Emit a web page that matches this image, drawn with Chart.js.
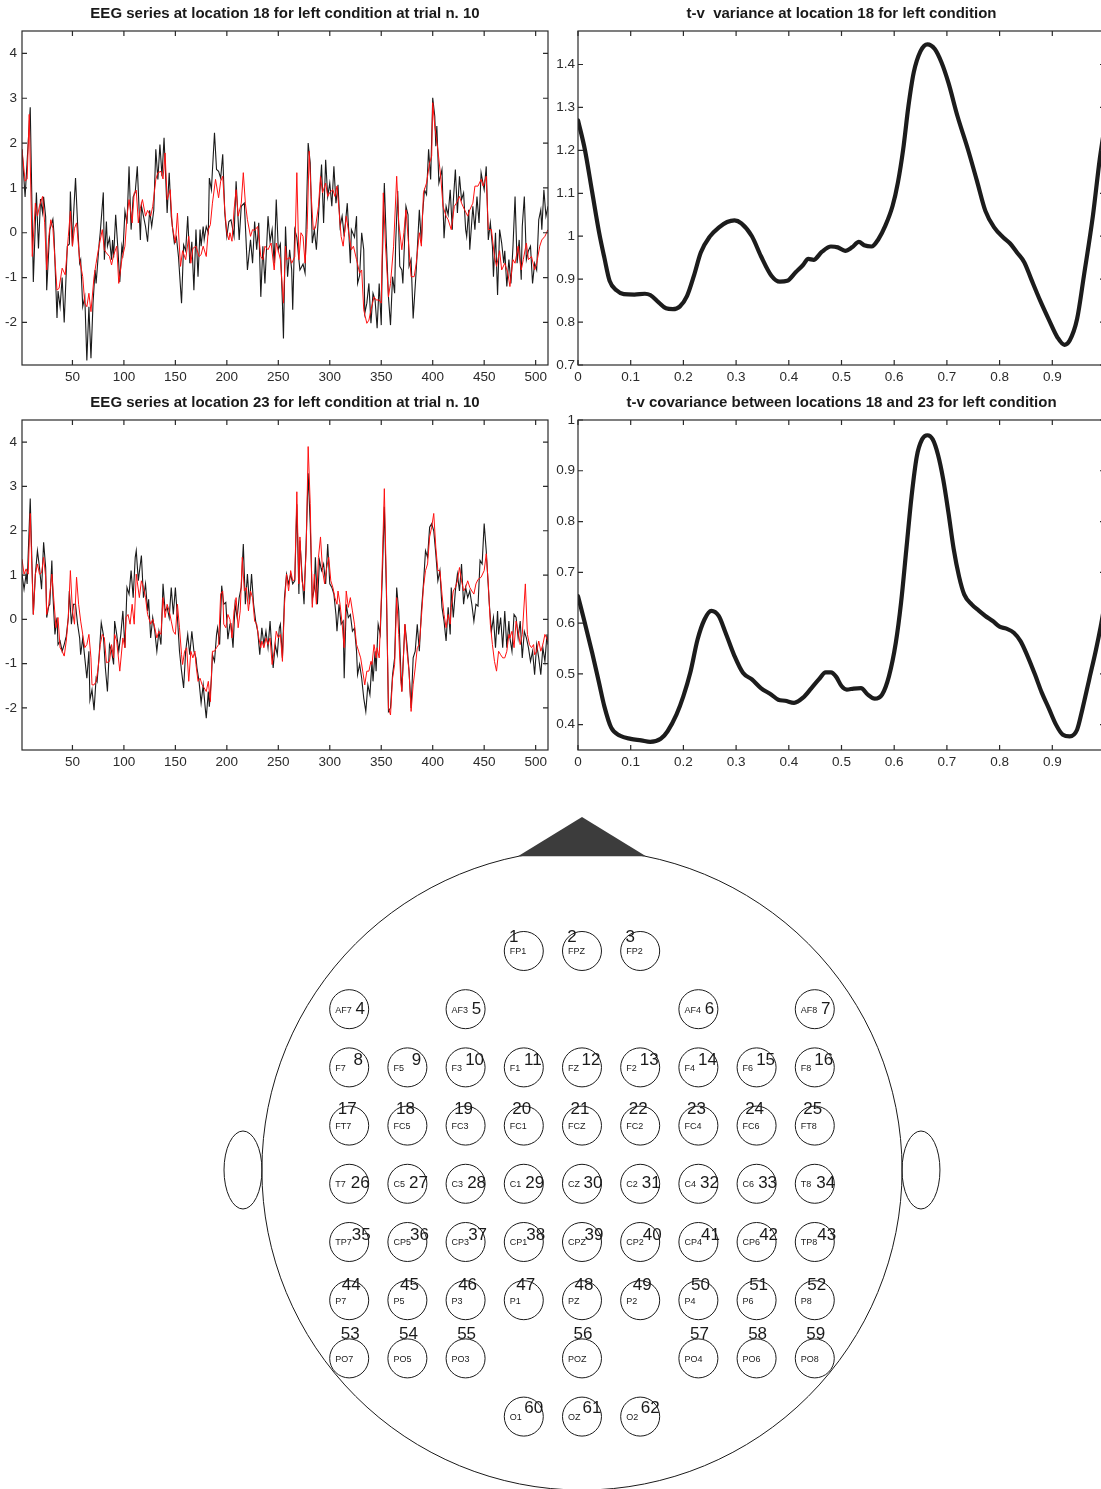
<!DOCTYPE html>
<html>
<head>
<meta charset="utf-8">
<script src="https://cdn.jsdelivr.net/npm/chart.js@4.4.0/dist/chart.umd.min.js"></script>
<style>
  html, body { margin: 0; padding: 0; background: #fff; overflow: hidden; }
  #page { position: relative; width: 1101px; height: 1489px; overflow: hidden; background: #fff; }
  canvas { position: absolute; }
</style>
</head>
<body>
<div id="page">
  <canvas id="eeg18" width="570" height="390" style="left:0;top:0"></canvas>
  <canvas id="var18" width="583" height="390" style="left:550px;top:0"></canvas>
  <canvas id="eeg23" width="570" height="386" style="left:0;top:389px"></canvas>
  <canvas id="cov" width="583" height="386" style="left:550px;top:389px"></canvas>
  <canvas id="head" width="1143" height="741" style="left:-21px;top:769px"></canvas>
</div>
<script>
// --- DATA ---
// EEG samples: [sample index, value]
const eeg18Black = [[1,1.86],[4,0.8],[9,2.8],[12,-1.1],[15,0.9],[17,-0.35],[19,0.75],[21,0.45],[22,0.8],[24,0.35],[25,-1.28],[28,0.07],[31,0.3],[32,0.0],[35,-1.9],[36,-1.3],[38,-1.65],[40,-1.0],[42,-2.0],[45,-0.3],[47,-0.25],[48,0.92],[50,-0.3],[51,0.37],[53,1.22],[55,0.2],[57,-0.68],[58,-0.6],[60,-1.65],[62,-1.43],[64,-2.85],[66,-1.65],[68,-2.8],[70,-1.57],[72,-0.83],[73,-1.13],[76,-0.23],[77,0.0],[80,0.9],[81,-0.6],[83,0.25],[84,-0.3],[86,-0.12],[88,-0.6],[89,-0.16],[90,-0.55],[92,0.4],[94,-0.3],[96,-1.1],[98,-0.3],[99,-0.45],[101,0.48],[103,0.2],[105,1.48],[107,0.07],[109,0.8],[111,0.9],[113,1.48],[116,-0.16],[117,0.6],[119,0.37],[121,0.14],[123,-0.2],[125,0.5],[127,0.14],[129,0.5],[131,1.86],[133,1.19],[135,1.97],[137,1.26],[139,2.12],[142,0.44],[144,1.34],[146,0.37],[149,-0.23],[151,-0.1],[153,-0.53],[156,-1.57],[158,-0.27],[160,-0.4],[162,0.37],[164,-0.68],[166,-0.2],[168,-1.28],[170,0.07],[172,-0.98],[174,0.07],[175,-0.3],[177,0.14],[178,-0.15],[180,0.14],[182,0.0],[183,1.22],[185,0.96],[188,2.23],[190,1.41],[192,1.37],[194,1.22],[196,1.75],[198,0.44],[200,-0.08],[202,0.25],[204,0.29],[207,-0.08],[209,1.15],[212,-0.16],[214,0.59],[217,0.66],[220,-0.83],[223,-0.16],[225,-0.68],[227,0.25],[229,-0.38],[231,0.22],[233,-1.43],[235,-0.3],[237,-1.13],[240,0.37],[242,-0.2],[244,0.07],[246,-0.68],[248,0.74],[250,-0.38],[252,-0.25],[254,-1.57],[255,-2.36],[257,0.14],[259,-0.98],[261,-0.38],[263,-0.83],[264,-1.72],[266,0.07],[268,-0.1],[270,-0.6],[271,-0.83],[274,-0.7],[276,-0.9],[277,0.14],[279,2.0],[281,1.56],[283,-0.23],[285,0.07],[287,-0.38],[289,0.37],[292,1.52],[294,0.22],[296,1.63],[298,0.81],[300,1.11],[302,0.59],[304,1.48],[306,0.66],[308,1.07],[310,0.14],[312,0.37],[314,-0.08],[317,0.66],[320,-0.68],[321,0.07],[324,-0.1],[326,0.37],[327,-1.13],[329,-0.95],[331,0.0],[333,-0.38],[334,-1.8],[336,-1.57],[338,-1.13],[340,-2.02],[342,-1.35],[344,-1.5],[346,-2.13],[348,-1.13],[350,-2.06],[351,-0.68],[353,1.11],[355,-0.23],[357,-1.43],[359,-2.06],[361,-0.98],[363,-1.35],[364,-0.23],[366,0.93],[368,-0.75],[370,-0.83],[371,-1.13],[374,0.59],[376,0.4],[377,-0.75],[379,-0.6],[381,-1.91],[384,-0.83],[385,-0.38],[387,0.51],[389,-0.23],[390,0.37],[392,0.96],[394,0.85],[396,1.86],[398,1.19],[400,3.01],[402,2.6],[403,1.93],[404,2.38],[406,1.11],[409,1.41],[411,-0.12],[413,0.59],[415,0.4],[417,0.96],[419,0.07],[420,0.7],[422,1.41],[424,0.44],[426,1.26],[428,0.74],[430,0.89],[432,0.07],[433,-0.08],[435,0.51],[436,-0.38],[439,0.59],[441,0.07],[443,0.81],[445,0.22],[447,1.34],[450,0.96],[452,1.48],[454,-0.16],[456,0.22],[458,-0.3],[459,-0.98],[461,0.0],[463,-1.39],[465,0.07],[467,-0.23],[469,-0.68],[470,-0.4],[472,-1.2],[474,-0.6],[476,-1.13],[478,-0.3],[480,0.81],[482,-0.68],[484,-0.16],[486,-1.05],[487,0.14],[489,0.81],[491,-0.6],[493,-0.4],[495,-0.3],[497,-1.13],[499,-0.68],[501,-0.83],[503,0.29],[505,0.51],[506,0.07],[508,0.96],[510,0.37],[512,0.59]];

const eeg18Red = [[1,1.86],[4,1.15],[6,1.2],[8,2.64],[11,-0.53],[14,0.66],[16,0.37],[18,0.6],[21,0.81],[23,0.22],[25,-0.83],[27,-0.1],[29,0.29],[31,0.1],[35,-1.28],[37,-1.24],[40,-0.79],[43,-0.94],[46,-0.08],[48,0.48],[50,-0.3],[52,0.1],[54,0.22],[57,-0.6],[60,-0.98],[62,-1.57],[64,-1.65],[66,-1.35],[68,-1.76],[71,-0.98],[73,-0.68],[75,-0.4],[79,0.07],[81,-0.38],[83,-0.45],[86,-0.53],[88,-0.72],[90,-0.5],[93,-0.3],[95,-1.13],[98,-0.6],[101,-0.3],[103,0.37],[105,0.74],[108,0.22],[110,0.89],[112,0.95],[114,0.22],[116,0.55],[118,0.74],[121,0.37],[123,0.5],[126,0.37],[128,0.59],[131,1.19],[133,1.34],[136,1.37],[138,1.2],[140,1.78],[142,0.74],[145,0.96],[147,0.14],[150,-0.23],[152,0.44],[155,-0.75],[157,-0.4],[160,-0.6],[163,-0.08],[165,-0.68],[167,-0.35],[170,-0.3],[173,-0.53],[175,-0.49],[177,-0.3],[180,-0.53],[182,0.07],[184,0.18],[186,0.66],[189,1.19],[192,0.78],[194,1.15],[196,1.26],[198,0.51],[200,0.0],[202,-0.16],[203,0.0],[205,-0.19],[207,0.51],[209,0.96],[211,0.37],[214,0.66],[216,1.34],[218,0.66],[220,0.29],[223,-0.08],[225,0.07],[227,0.05],[230,0.14],[233,-0.53],[235,-0.6],[237,-0.3],[240,-0.38],[243,-0.23],[246,-0.83],[248,-0.23],[250,-0.4],[252,-0.6],[255,-1.57],[257,-0.3],[258,-0.6],[261,-0.55],[263,-0.68],[266,-0.53],[268,1.34],[270,-0.6],[272,0.0],[274,-0.08],[276,-0.68],[278,0.07],[280,1.82],[282,0.81],[284,0.07],[286,0.1],[289,0.59],[291,1.26],[293,0.89],[296,1.11],[298,0.81],[300,0.9],[303,0.96],[305,0.81],[307,1.04],[309,0.51],[311,-0.08],[313,-0.3],[316,0.37],[318,0.07],[321,-0.38],[323,-0.3],[326,-0.6],[329,-0.9],[331,-0.83],[333,-1.72],[336,-2.02],[338,-1.95],[340,-1.72],[343,-1.43],[345,-1.5],[348,-1.5],[350,-1.57],[352,0.89],[354,-0.23],[357,-1.43],[359,-1.13],[362,-0.3],[365,1.26],[367,0.22],[370,-0.38],[372,0.0],[374,0.51],[376,-0.08],[379,-0.98],[382,-0.98],[384,-0.68],[387,0.0],[389,-0.3],[391,0.89],[394,1.11],[397,1.56],[399,1.71],[400,2.9],[402,2.38],[405,1.86],[408,1.19],[410,0.59],[413,0.37],[415,0.29],[418,0.07],[421,0.59],[423,0.66],[426,0.81],[428,0.66],[431,0.51],[434,0.37],[436,0.51],[439,0.66],[441,1.04],[444,1.04],[447,1.19],[449,1.04],[452,1.26],[454,0.07],[457,0.07],[460,-0.53],[462,-0.75],[465,-0.4],[467,-0.83],[470,-0.68],[473,-0.9],[475,-1.2],[478,-0.6],[480,-0.68],[483,-0.3],[486,-0.83],[488,-0.6],[491,-0.23],[493,-0.6],[496,-0.53],[499,-0.83],[501,-0.68],[504,-0.3],[506,-0.16],[509,-0.08],[512,0.07]];

const eeg23Black = [[1,1.02],[3,0.68],[5,1.02],[6,0.8],[9,2.73],[12,0.11],[14,1.02],[16,1.55],[18,1.17],[20,0.68],[22,1.74],[24,1.17],[25,0.04],[27,0.3],[28,0.34],[30,1.33],[31,0.57],[33,-0.34],[35,0.04],[36,-0.57],[38,-0.49],[40,-0.72],[42,-0.57],[44,-0.38],[46,0.04],[47,0.64],[49,-0.11],[51,0.34],[53,0.34],[55,-0.11],[57,-0.42],[58,-0.8],[60,-0.42],[62,-0.87],[64,-1.33],[66,-0.72],[67,-1.82],[69,-1.59],[71,-2.05],[73,-1.33],[74,-1.4],[76,-0.8],[78,-0.08],[80,-0.34],[82,-1.1],[84,-1.63],[86,-0.57],[88,-0.72],[90,-1.02],[91,-0.04],[93,-0.34],[95,-0.72],[97,-0.34],[99,0.19],[101,-0.64],[103,0.72],[105,0.57],[107,1.1],[109,0.49],[111,1.4],[112,1.55],[114,0.87],[117,1.44],[119,0.49],[121,0.8],[123,0.19],[124,0.45],[126,-0.42],[128,0.04],[130,-0.27],[132,-0.72],[134,-0.27],[136,-0.57],[138,0.8],[140,0.19],[142,0.27],[144,0.04],[146,0.72],[148,0.11],[150,0.72],[152,0.04],[154,-0.72],[156,-1.17],[158,-1.55],[160,-0.72],[162,-0.34],[164,-0.8],[166,-0.27],[168,-0.72],[170,-0.87],[171,-1.1],[173,-1.4],[175,-1.89],[177,-1.48],[179,-2.0],[180,-2.23],[182,-1.63],[183,-1.97],[185,-1.33],[186,-0.8],[188,-0.95],[190,-0.34],[191,-0.19],[193,-0.57],[195,0.76],[197,0.34],[199,0.38],[201,-0.45],[203,-0.11],[204,-0.1],[206,-0.64],[208,0.34],[210,0.04],[212,0.49],[214,0.72],[216,1.7],[218,0.34],[220,1.02],[222,0.34],[224,1.02],[226,0.34],[228,-0.04],[230,-0.27],[232,-0.8],[234,-0.19],[236,-0.57],[238,-0.27],[240,-0.64],[242,-0.04],[243,-0.42],[245,-1.1],[247,-0.57],[249,-0.8],[251,-0.19],[252,-0.11],[254,-0.87],[256,0.49],[258,1.02],[260,0.8],[262,1.02],[264,0.8],[266,0.87],[268,2.6],[270,0.57],[271,1.78],[273,1.02],[275,0.34],[277,1.7],[279,3.3],[281,2.16],[283,0.45],[285,0.7],[286,1.4],[288,0.34],[290,1.33],[292,1.1],[294,1.25],[296,0.8],[298,1.7],[300,0.8],[302,0.72],[304,0.57],[306,0.11],[307,-0.27],[309,0.34],[311,-0.11],[313,-0.04],[314,-1.33],[316,0.34],[318,0.04],[320,0.11],[322,-0.27],[324,-0.2],[326,-0.72],[327,-1.25],[329,-1.02],[331,-1.33],[333,-1.78],[335,-2.08],[337,-1.48],[339,-1.7],[341,-0.95],[342,-1.4],[344,-0.72],[345,-1.17],[347,-0.11],[349,-0.34],[351,0.95],[353,2.54],[355,0.64],[357,-2.08],[359,-2.0],[361,-1.25],[363,-0.87],[365,0.72],[367,0.19],[369,-1.17],[370,-1.63],[373,-0.11],[375,-0.57],[377,-1.17],[379,-2.0],[381,-0.87],[383,-0.72],[385,-0.11],[387,-0.72],[389,0.19],[391,0.8],[393,1.55],[395,1.4],[397,2.08],[399,2.16],[401,2.0],[403,1.48],[405,0.87],[407,1.1],[409,0.27],[411,-0.04],[413,-0.49],[415,0.27],[417,-0.34],[418,0.72],[420,0.04],[422,0.64],[424,1.02],[426,0.64],[428,1.25],[430,0.34],[432,0.72],[434,0.49],[436,0.64],[438,0.34],[440,-0.04],[442,0.34],[444,0.3],[446,1.33],[448,1.25],[450,2.16],[452,1.55],[455,0.34],[457,-0.27],[459,0.04],[461,-0.64],[463,0.19],[464,-0.34],[466,0.04],[468,-0.64],[470,0.19],[472,-0.64],[474,-0.04],[475,-0.42],[477,-0.72],[479,0.11],[481,0.04],[483,-0.42],[485,-0.04],[487,-0.87],[489,-0.27],[491,-0.42],[493,-0.64],[495,-0.95],[497,-0.72],[499,-1.25],[501,-0.57],[503,-0.87],[505,-1.25],[507,-0.64],[509,-0.95],[511,-0.34],[512,-0.57]];

const eeg23Red = [[1,1.36],[3,1.02],[5,1.14],[7,1.02],[9,2.39],[12,0.11],[14,1.02],[16,1.25],[18,1.02],[20,1.05],[22,1.4],[24,0.95],[25,0.11],[27,0.34],[30,1.02],[32,0.42],[34,-0.19],[36,0.04],[38,-0.64],[40,-0.72],[42,-0.83],[44,-0.49],[46,0.04],[48,1.1],[50,0.19],[52,-0.11],[54,0.95],[56,0.34],[58,-0.04],[60,-0.34],[62,-0.64],[64,-0.57],[66,-0.34],[68,-0.87],[69,-1.48],[71,-1.48],[73,-1.4],[75,-1.1],[77,-0.57],[79,-0.34],[81,-0.42],[83,-0.98],[86,-0.95],[88,-0.57],[90,-0.87],[91,-0.34],[93,-0.49],[96,-1.17],[99,-0.42],[101,-0.64],[102,0.04],[104,0.11],[106,-0.11],[108,0.34],[110,-0.11],[112,1.02],[115,0.49],[117,0.87],[119,0.72],[121,0.49],[123,0.11],[124,0.04],[126,-0.11],[128,0.0],[130,-0.19],[132,-0.42],[134,-0.27],[136,-0.34],[138,0.49],[140,0.04],[142,0.34],[144,0.19],[146,-0.04],[148,-0.27],[150,-0.34],[152,0.34],[154,-0.19],[156,-0.8],[157,-1.02],[159,-0.72],[161,-0.64],[163,-1.4],[165,-0.72],[167,-0.87],[169,-0.72],[170,-1.02],[172,-1.4],[174,-1.33],[176,-1.48],[178,-1.55],[180,-1.63],[182,-1.4],[184,-1.86],[186,-0.72],[188,-0.72],[190,-0.64],[192,-0.57],[194,0.57],[196,0.64],[197,-0.11],[199,-0.19],[201,0.11],[203,0.0],[205,-0.42],[207,0.19],[209,0.49],[211,-0.19],[213,0.19],[215,1.4],[217,0.64],[219,0.72],[221,0.19],[223,0.64],[225,0.49],[227,-0.04],[229,-0.11],[231,-0.42],[233,-0.64],[234,-0.49],[236,-0.64],[238,-0.42],[240,-0.57],[242,-0.42],[244,-1.02],[246,-0.72],[248,-0.27],[250,-0.42],[252,-0.34],[254,-0.95],[256,0.34],[258,1.02],[260,0.64],[262,1.1],[264,0.87],[266,0.9],[268,2.88],[270,0.8],[271,1.86],[273,0.87],[275,0.64],[277,1.5],[279,3.9],[281,2.61],[283,0.27],[285,1.02],[287,0.34],[289,1.4],[291,1.86],[293,1.1],[295,0.8],[297,1.17],[299,1.4],[301,0.87],[303,0.72],[305,0.49],[307,0.34],[308,0.64],[310,0.34],[312,-0.11],[314,-0.64],[316,0.64],[318,0.27],[320,0.49],[322,0.19],[324,-0.11],[326,-0.57],[328,-0.72],[330,-0.87],[332,-1.17],[334,-1.48],[336,-1.17],[338,-1.17],[340,-0.95],[341,-1.02],[343,-0.57],[345,-0.87],[346,-0.64],[348,-0.87],[350,0.42],[353,2.95],[355,0.8],[357,-2.0],[359,-2.16],[361,-1.33],[363,-1.02],[365,0.49],[367,-0.34],[369,-1.4],[370,-1.63],[373,-0.11],[375,-0.72],[377,-1.17],[379,-2.08],[381,-1.48],[383,-1.1],[385,-0.64],[387,-0.57],[389,0.04],[391,0.72],[393,1.1],[395,1.25],[397,1.86],[399,2.08],[401,2.39],[403,1.63],[405,1.1],[407,1.1],[409,0.57],[411,0.11],[413,-0.19],[415,0.11],[417,-0.11],[418,0.27],[420,0.64],[422,0.72],[424,0.87],[426,1.17],[428,0.87],[430,0.64],[432,0.72],[434,0.87],[436,0.72],[438,0.64],[440,0.57],[442,0.8],[444,0.9],[447,0.95],[450,1.1],[452,1.48],[454,0.8],[456,-0.11],[458,-0.57],[460,-0.95],[462,-1.17],[464,-0.72],[466,-0.8],[468,-0.87],[470,-0.87],[472,-0.72],[474,-0.34],[475,-0.42],[477,-0.27],[479,-0.64],[481,-0.04],[483,-0.27],[485,-0.57],[487,-0.34],[490,0.8],[492,-0.34],[494,-0.57],[496,-0.64],[498,-0.57],[499,-0.8],[501,-0.72],[503,-0.49],[505,-0.72],[507,-0.57],[509,-0.34],[512,-0.49]];

// time-varying variance / covariance: [t, value]
const varianceCurve = [[0,1.27],[0.013,1.202],[0.027,1.102],[0.04,1.009],[0.05,0.95],[0.06,0.896],[0.073,0.874],[0.087,0.865],[0.107,0.864],[0.127,0.866],[0.137,0.863],[0.153,0.846],[0.167,0.832],[0.18,0.83],[0.193,0.836],[0.207,0.861],[0.22,0.908],[0.233,0.962],[0.25,0.999],[0.267,1.02],[0.283,1.033],[0.297,1.037],[0.31,1.03],[0.33,1.0],[0.347,0.954],[0.367,0.908],[0.383,0.894],[0.397,0.896],[0.413,0.916],[0.427,0.933],[0.437,0.947],[0.447,0.945],[0.463,0.964],[0.48,0.976],[0.493,0.974],[0.507,0.966],[0.52,0.974],[0.533,0.987],[0.543,0.979],[0.557,0.976],[0.57,0.993],[0.583,1.024],[0.597,1.071],[0.607,1.125],[0.617,1.202],[0.627,1.303],[0.637,1.381],[0.65,1.431],[0.663,1.447],[0.677,1.436],[0.69,1.404],[0.703,1.357],[0.72,1.28],[0.74,1.202],[0.757,1.129],[0.773,1.059],[0.79,1.02],[0.807,0.997],[0.82,0.983],[0.833,0.962],[0.847,0.939],[0.86,0.9],[0.877,0.85],[0.893,0.807],[0.91,0.764],[0.923,0.747],[0.933,0.757],[0.947,0.807],[0.96,0.908],[0.977,1.047],[0.99,1.179],[1.0,1.26]];

const covarianceCurve = [[0,0.653],[0.013,0.6],[0.027,0.541],[0.04,0.482],[0.05,0.436],[0.063,0.394],[0.08,0.378],[0.1,0.372],[0.12,0.369],[0.137,0.366],[0.157,0.372],[0.17,0.387],[0.187,0.42],[0.2,0.456],[0.213,0.502],[0.227,0.568],[0.24,0.607],[0.253,0.624],[0.267,0.614],[0.28,0.581],[0.297,0.535],[0.313,0.502],[0.33,0.489],[0.347,0.472],[0.367,0.459],[0.38,0.449],[0.393,0.447],[0.41,0.443],[0.427,0.453],[0.443,0.472],[0.457,0.489],[0.47,0.503],[0.48,0.503],[0.49,0.494],[0.5,0.476],[0.51,0.469],[0.523,0.471],[0.537,0.472],[0.55,0.459],[0.563,0.451],[0.577,0.459],[0.59,0.495],[0.603,0.561],[0.613,0.64],[0.623,0.745],[0.633,0.85],[0.643,0.929],[0.653,0.962],[0.663,0.97],[0.673,0.962],[0.683,0.932],[0.693,0.883],[0.703,0.817],[0.713,0.745],[0.723,0.692],[0.733,0.656],[0.747,0.637],[0.76,0.625],[0.773,0.614],[0.787,0.604],[0.8,0.593],[0.813,0.589],[0.827,0.581],[0.84,0.564],[0.853,0.535],[0.867,0.499],[0.88,0.463],[0.893,0.433],[0.907,0.4],[0.92,0.38],[0.933,0.377],[0.947,0.39],[0.957,0.43],[0.97,0.489],[0.983,0.548],[0.992,0.594],[1.0,0.64]];

// tick labels
const eegXTicks = [50, 100, 150, 200, 250, 300, 350, 400, 450, 500];
const eegYTicks = [-2, -1, 0, 1, 2, 3, 4];
const tvXTicks = [0, 0.1, 0.2, 0.3, 0.4, 0.5, 0.6, 0.7, 0.8, 0.9, 1];
const varYTicks = [0.7, 0.8, 0.9, 1, 1.1, 1.2, 1.3, 1.4];
const covYTicks = [0.4, 0.5, 0.6, 0.7, 0.8, 0.9, 1];

// electrode layout (grid column / row on the scalp map)
const electrodeNames = ['FP1','FPZ','FP2','AF7','AF3','AF4','AF8',
  'F7','F5','F3','F1','FZ','F2','F4','F6','F8',
  'FT7','FC5','FC3','FC1','FCZ','FC2','FC4','FC6','FT8',
  'T7','C5','C3','C1','CZ','C2','C4','C6','T8',
  'TP7','CP5','CP3','CP1','CPZ','CP2','CP4','CP6','TP8',
  'P7','P5','P3','P1','PZ','P2','P4','P6','P8',
  'PO7','PO5','PO3','POZ','PO4','PO6','PO8','O1','OZ','O2'];
const electrodeCol = [-1,0,1,-4,-2,2,4,
  -4,-3,-2,-1,0,1,2,3,4,
  -4,-3,-2,-1,0,1,2,3,4,
  -4,-3,-2,-1,0,1,2,3,4,
  -4,-3,-2,-1,0,1,2,3,4,
  -4,-3,-2,-1,0,1,2,3,4,
  -4,-3,-2,0,2,3,4,-1,0,1];
const electrodeRow = [0,0,0,1,1,1,1,
  2,2,2,2,2,2,2,2,2,
  3,3,3,3,3,3,3,3,3,
  4,4,4,4,4,4,4,4,4,
  5,5,5,5,5,5,5,5,5,
  6,6,6,6,6,6,6,6,6,
  7,7,7,7,7,7,7,8,8,8];

// --- STYLE ---
const FONT = "'Liberation Sans', Arial, Helvetica, sans-serif";
Chart.defaults.font.family = FONT;

// matlab-like box with inward ticks on all four sides
const boxPlugin = {
  id: 'matlabBox',
  afterDraw(chart) {
    const { ctx, chartArea: a, scales: { x, y } } = chart;
    ctx.save();
    ctx.strokeStyle = '#2a2a2a';
    ctx.lineWidth = 1.2;
    ctx.strokeRect(a.left, a.top, a.right - a.left, a.bottom - a.top);
    ctx.beginPath();
    x.ticks.forEach(t => {
      const p = x.getPixelForValue(t.value);
      ctx.moveTo(p, a.bottom); ctx.lineTo(p, a.bottom - 5);
      ctx.moveTo(p, a.top); ctx.lineTo(p, a.top + 5);
    });
    y.ticks.forEach(t => {
      const p = y.getPixelForValue(t.value);
      ctx.moveTo(a.left, p); ctx.lineTo(a.left + 5, p);
      ctx.moveTo(a.right, p); ctx.lineTo(a.right - 5, p);
    });
    ctx.stroke();
    ctx.restore();
  }
};

function axis(min, max, ticks, size, pad, isX) {
  return {
    type: 'linear', min, max,
    grid: { display: false, drawTicks: false },
    border: { display: false },
    ticks: {
      autoSkip: false, maxRotation: 0, padding: pad,
      color: '#2b2b2b', font: { family: FONT, size: 13.5 },
      callback: v => String(v)
    },
    afterBuildTicks: s => { s.ticks = ticks.map(v => ({ value: v })); },
    afterFit: s => { if (isX) s.height = size; else s.width = size; }
  };
}

function plotOptions(title, padRight, xAxis, yAxis) {
  return {
    responsive: false,
    animation: false,
    events: [],
    layout: { padding: { left: 0, right: padRight, top: 0, bottom: 0 } },
    plugins: {
      legend: { display: false },
      tooltip: { enabled: false },
      title: {
        display: true, fullSize: false, text: title, color: '#1a1a1a',
        font: { family: FONT, size: 15, weight: 'bold', lineHeight: 1.2 },
        padding: { top: 5, bottom: 8 }
      }
    },
    scales: { x: xAxis, y: yAxis }
  };
}

function toXY(pairs) { return pairs.map(([x, y]) => ({ x, y })); }

function eegChart(id, title, black, red) {
  return new Chart(document.getElementById(id), {
    type: 'line',
    data: {
      datasets: [
        { data: toXY(red), borderColor: '#ff1010', borderWidth: 1, pointRadius: 0, tension: 0, order: 0 },
        { data: toXY(black), borderColor: '#1a1a1a', borderWidth: 1.1, pointRadius: 0, tension: 0, order: 1 }
      ]
    },
    options: plotOptions(title, 22,
      axis(1, 512, eegXTicks, 25, 4, true),
      axis(-2.95, 4.5, eegYTicks, 22, 5, false)),
    plugins: [boxPlugin]
  });
}

function curveChart(id, title, curve, ymin, ymax, yTicks) {
  return new Chart(document.getElementById(id), {
    type: 'line',
    data: {
      datasets: [{
        data: toXY(curve), borderColor: '#1c1c1c', borderWidth: 4.2,
        pointRadius: 0, cubicInterpolationMode: 'monotone',
        borderCapStyle: 'round', borderJoinStyle: 'round'
      }]
    },
    options: plotOptions(title, 28,
      axis(0, 1, tvXTicks, 25, 4, true),
      axis(ymin, ymax, yTicks, 28, 3, false)),
    plugins: [boxPlugin]
  });
}

eegChart('eeg18', 'EEG series at location 18 for left condition at trial n. 10', eeg18Black, eeg18Red);
eegChart('eeg23', 'EEG series at location 23 for left condition at trial n. 10', eeg23Black, eeg23Red);
curveChart('var18', 't-v  variance at location 18 for left condition', varianceCurve, 0.7, 1.478, varYTicks);
curveChart('cov', 't-v covariance between locations 18 and 23 for left condition', covarianceCurve, 0.35, 1, covYTicks);

// --- SCALP MAP ---
// head geometry in grid units (columns / rows of the electrode grid)
const HEAD = { centreRow: 3.763, radius: 5.5, noseRow: -2.3, noseHalf: 1.1, earCol: 5.825, earHalfW: 0.326, earHalfH: 0.67 };
// per-row offsets of the electrode numbers (px)
const NUM_OFFSET = [[-10, -14], [11, 0], [9, -7], [-2, -16], [11, 0], [12, -7], [2, -15], [1, -24], [10, -8]];

const headPlugin = {
  id: 'headOutline',
  beforeDatasetsDraw(chart) {
    const { ctx, scales: { x, y } } = chart;
    const cx = x.getPixelForValue(0);
    const cy = y.getPixelForValue(HEAD.centreRow);
    const r = x.getPixelForValue(HEAD.radius) - cx;
    const unit = x.getPixelForValue(1) - cx;
    ctx.save();
    ctx.strokeStyle = '#1a1a1a';
    ctx.lineWidth = 1;
    ctx.beginPath();
    ctx.arc(cx, cy, r, 0, Math.PI * 2);
    ctx.stroke();
    // nose
    const hw = HEAD.noseHalf * unit;
    const baseY = cy - Math.sqrt(r * r - hw * hw);
    ctx.fillStyle = '#3c3c3c';
    ctx.beginPath();
    ctx.moveTo(cx - hw, baseY);
    ctx.lineTo(cx, y.getPixelForValue(HEAD.noseRow));
    ctx.lineTo(cx + hw, baseY);
    ctx.closePath();
    ctx.fill();
    // ears
    [-1, 1].forEach(side => {
      ctx.beginPath();
      ctx.ellipse(x.getPixelForValue(side * HEAD.earCol), cy, HEAD.earHalfW * unit, HEAD.earHalfH * unit, 0, 0, Math.PI * 2);
      ctx.stroke();
    });
    ctx.restore();
  },
  afterDatasetsDraw(chart) {
    const { ctx } = chart;
    const meta = chart.getDatasetMeta(0);
    ctx.save();
    ctx.fillStyle = '#1a1a1a';
    ctx.textBaseline = 'middle';
    meta.data.forEach((pt, i) => {
      ctx.font = `9px ${FONT}`;
      ctx.textAlign = 'left';
      ctx.fillText(electrodeNames[i], pt.x - 14, pt.y + 1);
      const off = NUM_OFFSET[electrodeRow[i]];
      ctx.font = `17px ${FONT}`;
      ctx.textAlign = 'center';
      ctx.fillText(String(i + 1), pt.x + off[0], pt.y + off[1]);
    });
    ctx.restore();
  }
};

new Chart(document.getElementById('head'), {
  type: 'scatter',
  data: {
    datasets: [{
      data: electrodeNames.map((n, i) => ({ x: electrodeCol[i], y: electrodeRow[i] })),
      pointRadius: 19.5,
      pointBorderWidth: 1,
      pointBorderColor: '#1a1a1a',
      pointBackgroundColor: 'rgba(0,0,0,0)'
    }]
  },
  options: {
    responsive: false,
    animation: false,
    events: [],
    // padding equals the point overflow so the plot area is exactly the visible map
    layout: { padding: 21 },
    plugins: { legend: { display: false }, tooltip: { enabled: false } },
    scales: {
      x: { type: 'linear', display: false, min: -10, max: 8.918 },
      y: { type: 'linear', display: false, reverse: true, min: -2.766, max: 9.244 }
    }
  },
  plugins: [headPlugin]
});
</script>
</body>
</html>
